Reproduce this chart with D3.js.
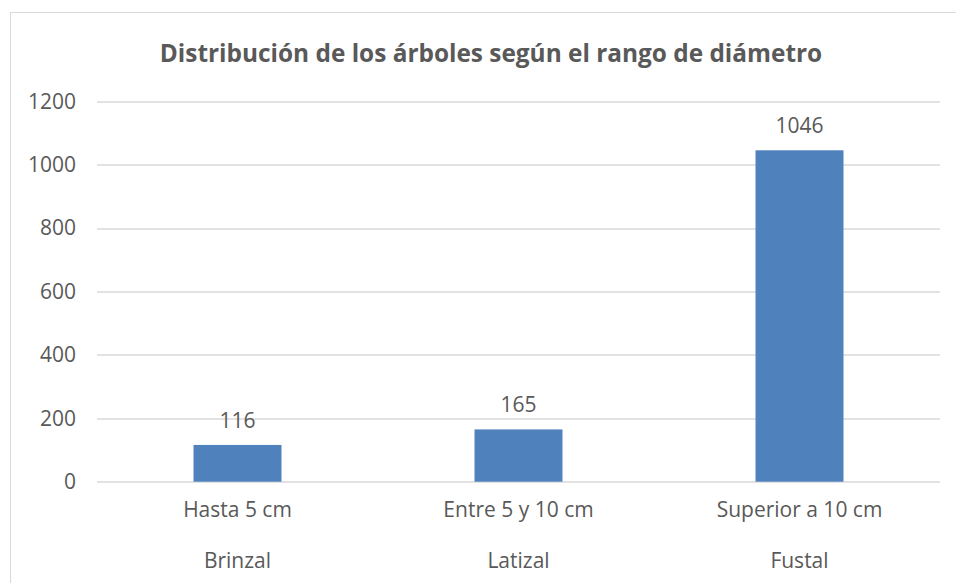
<!DOCTYPE html>
<html>
<head>
<meta charset="utf-8">
<script src="https://cdn.jsdelivr.net/npm/d3@7"></script>
<style>
  body { margin: 0; background: #fff; }
  svg text { font-family: "Open Sans", sans-serif; fill: #595959; }
</style>
</head>
<body>
<svg id="chart"></svg>
<script>
// chart data
var categories = ["Hasta 5 cm", "Entre 5 y 10 cm", "Superior a 10 cm"];
var groups = ["Brinzal", "Latizal", "Fustal"];
var values = [116, 165, 1046];
var yTicks = [0, 200, 400, 600, 800, 1000, 1200];

var W = 956, H = 583;
var margin = {top: 101.5, right: 16, bottom: 101.3, left: 97},
    width = W - margin.left - margin.right,
    height = H - margin.top - margin.bottom;

var svg = d3.select("#chart").attr("width", W).attr("height", H);

// chart area border
svg.append("rect")
    .attr("x", 10.5).attr("y", 12.5)
    .attr("width", W).attr("height", H)
    .attr("fill", "none")
    .attr("stroke", "#d9d9d9");

svg.append("text")
    .attr("x", 491).attr("y", 62)
    .attr("text-anchor", "middle")
    .style("font-size", "24.4px")
    .style("font-weight", "bold")
    .text("Distribución de los árboles según el rango de diámetro");

var g = svg.append("g")
    .attr("transform", "translate(" + margin.left + "," + margin.top + ")");

var xscale = d3.scaleBand()
    .domain(categories)
    .range([0, width])
    .paddingInner(0.687)
    .paddingOuter(0.3435);

var yscale = d3.scaleLinear()
    .domain([0, 1200])
    .range([height, 0]);

// gridlines
g.selectAll(".grid")
    .data(yTicks)
    .enter().append("line")
    .attr("class", "grid")
    .attr("x1", 0).attr("x2", width)
    .attr("y1", function(d) { return Math.round(yscale(d)) + 0.5; })
    .attr("y2", function(d) { return Math.round(yscale(d)) + 0.5; })
    .attr("stroke", "#d9d9d9")
    .attr("stroke-width", 1.3);

// y axis labels
var yaxis = d3.axisLeft(yscale).tickValues(yTicks).tickFormat(d3.format("d"))
    .tickSize(0).tickPadding(21);
var yg = g.append("g").call(yaxis);
yg.select(".domain").remove();
yg.selectAll("text").style("font-size", "21px").style("fill", "#595959");

// bars
g.selectAll(".bar")
    .data(values)
    .enter().append("rect")
    .attr("class", "bar")
    .attr("x", function(d, i) { return xscale(categories[i]); })
    .attr("width", xscale.bandwidth())
    .attr("y", function(d) { return yscale(d); })
    .attr("height", function(d) { return height - yscale(d); })
    .attr("fill", "#4f81bd");

// data labels
g.selectAll(".label")
    .data(values)
    .enter().append("text")
    .attr("class", "label")
    .attr("x", function(d, i) { return xscale(categories[i]) + xscale.bandwidth() / 2; })
    .attr("y", function(d) { return yscale(d) - 17; })
    .attr("text-anchor", "middle")
    .style("font-size", "21px")
    .text(function(d) { return d; });

// x axis: two levels of labels
var xaxis = d3.axisBottom(xscale).tickSize(0).tickPadding(20);
var xg = g.append("g").attr("transform", "translate(0," + height + ")").call(xaxis);
xg.select(".domain").remove();
xg.selectAll("text").style("font-size", "21px").style("fill", "#595959");

g.selectAll(".group")
    .data(groups)
    .enter().append("text")
    .attr("class", "group")
    .attr("x", function(d, i) { return xscale(categories[i]) + xscale.bandwidth() / 2; })
    .attr("y", height + 86)
    .attr("text-anchor", "middle")
    .style("font-size", "21px")
    .text(function(d) { return d; });
</script>
</body>
</html>
